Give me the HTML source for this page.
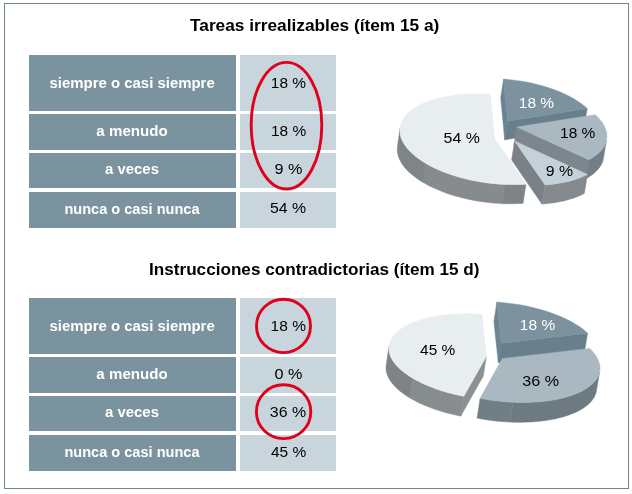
<!DOCTYPE html>
<html><head><meta charset="utf-8">
<style>
html,body{margin:0;padding:0;background:#fff;width:632px;height:494px;overflow:hidden}
body{position:relative;font-family:"Liberation Sans",sans-serif}
svg{position:absolute;left:0;top:0;will-change:transform}
text{font-family:"Liberation Sans",sans-serif}
.t{font-weight:bold;font-size:17px;fill:#000}
.w{font-weight:bold;font-size:15px;fill:#fff}
.p{font-size:14.5px;fill:#000}
.q{font-size:15px}
</style></head><body>
<svg width="632" height="494" viewBox="0 0 632 494">
<rect x="4.5" y="3.5" width="624" height="485" fill="none" stroke="#6f8793" stroke-width="1"/>
<text class="t" x="190.00" y="31.30" textLength="249.38" lengthAdjust="spacingAndGlyphs">Tareas irrealizables (ítem 15 a)</text>
<text class="t" x="148.99" y="274.50" textLength="330.53" lengthAdjust="spacingAndGlyphs">Instrucciones contradictorias (ítem 15 d)</text>
<g fill="#7b939f">
<rect x="29" y="55" width="207" height="56"/><rect x="29" y="114" width="207" height="36"/><rect x="29" y="153" width="207" height="35"/><rect x="29" y="192" width="207" height="36"/>
<rect x="29" y="298" width="207" height="56"/><rect x="29" y="357" width="207" height="36"/><rect x="29" y="396" width="207" height="35"/><rect x="29" y="435" width="207" height="36"/>
</g>
<g fill="#c8d5dc">
<rect x="240" y="55" width="96" height="56"/><rect x="240" y="114" width="96" height="36"/><rect x="240" y="153" width="96" height="35"/><rect x="240" y="192" width="96" height="36"/>
<rect x="240" y="298" width="96" height="56"/><rect x="240" y="357" width="96" height="36"/><rect x="240" y="396" width="96" height="35"/><rect x="240" y="435" width="96" height="36"/>
</g>
<text class="w" x="49.50" y="88.30" textLength="165.23" lengthAdjust="spacingAndGlyphs">siempre o casi siempre</text>
<text class="w" x="96.39" y="135.80" textLength="71.36" lengthAdjust="spacingAndGlyphs">a menudo</text>
<text class="w" x="105.11" y="174.10" textLength="53.83" lengthAdjust="spacingAndGlyphs">a veces</text>
<text class="w" x="64.43" y="213.50" textLength="135.08" lengthAdjust="spacingAndGlyphs">nunca o casi nunca</text>
<text class="w" x="49.50" y="330.80" textLength="165.23" lengthAdjust="spacingAndGlyphs">siempre o casi siempre</text>
<text class="w" x="96.39" y="379.00" textLength="71.36" lengthAdjust="spacingAndGlyphs">a menudo</text>
<text class="w" x="105.11" y="417.00" textLength="53.83" lengthAdjust="spacingAndGlyphs">a veces</text>
<text class="w" x="64.43" y="456.60" textLength="135.08" lengthAdjust="spacingAndGlyphs">nunca o casi nunca</text>
<text class="p" x="270.83" y="87.90" textLength="35.23" lengthAdjust="spacingAndGlyphs">18 %</text>
<text class="p" x="270.93" y="135.80" textLength="35.23" lengthAdjust="spacingAndGlyphs">18 %</text>
<text class="p" x="274.58" y="174.20" textLength="27.93" lengthAdjust="spacingAndGlyphs">9 %</text>
<text class="p" x="270.01" y="213.40" textLength="36.16" lengthAdjust="spacingAndGlyphs">54 %</text>
<text class="p" x="270.63" y="330.80" textLength="35.34" lengthAdjust="spacingAndGlyphs">18 %</text>
<text class="p" x="274.58" y="379.00" textLength="27.93" lengthAdjust="spacingAndGlyphs">0 %</text>
<text class="p" x="269.80" y="417.00" textLength="36.37" lengthAdjust="spacingAndGlyphs">36 %</text>
<text class="p" x="270.90" y="456.60" textLength="35.27" lengthAdjust="spacingAndGlyphs">45 %</text>
<g fill="none" stroke="#e0001b" stroke-width="2.9">
<path d="M251.2,125 A35.3,62.7 0 0 1 321.8,125 A35.3,64.1 0 0 1 251.2,125Z"/>
<ellipse cx="283.5" cy="325.9" rx="27" ry="26.7"/>
<ellipse cx="283.6" cy="411.7" rx="27.2" ry="26.9"/>
</g>
<path fill="#6b8491" stroke="#6b8491" stroke-width="0.5" stroke-linejoin="round" d="M507.7,121.0 L503.6,79.1 L500.7,97.8 L504.7,139.8Z"/>
<path fill="#67808c" stroke="#67808c" stroke-width="0.5" stroke-linejoin="round" d="M507.7,121.0 L587.2,108.5 L584.0,127.3 L504.7,139.8Z"/>
<path fill="#7c939f" stroke="#7c939f" stroke-width="0.5" stroke-linejoin="round" d="M507.7,121.0 L503.6,79.1 L507.6,79.5 L511.6,79.9 L515.6,80.4 L519.6,80.9 L523.5,81.6 L527.5,82.3 L531.4,83.1 L535.2,84.0 L539.0,85.0 L542.8,86.0 L546.4,87.1 L550.0,88.2 L553.6,89.5 L557.0,90.8 L560.3,92.1 L563.6,93.5 L566.7,95.0 L569.7,96.5 L572.6,98.1 L575.4,99.7 L578.0,101.4 L580.5,103.1 L582.9,104.9 L585.1,106.6 L587.2,108.5Z"/>
<path fill="#7c878d" stroke="#7c878d" stroke-width="0.5" stroke-linejoin="round" d="M516.8,127.1 L588.9,159.7 L585.7,178.8 L513.9,146.0Z"/>
<path fill="#737f86" stroke="#737f86" stroke-width="0.5" stroke-linejoin="round" d="M606.4,140.7 L605.9,142.5 L605.2,144.3 L604.3,146.0 L603.3,147.7 L602.1,149.4 L600.7,151.0 L599.1,152.6 L597.4,154.1 L595.5,155.6 L593.5,157.0 L591.3,158.4 L588.9,159.7 L585.7,178.8 L588.1,177.5 L590.2,176.1 L592.3,174.7 L594.2,173.2 L595.9,171.6 L597.4,170.1 L598.8,168.4 L600.0,166.7 L601.1,165.0 L602.0,163.3 L602.7,161.5 L603.2,159.7Z"/>
<path fill="#aab9c1" stroke="#aab9c1" stroke-width="0.5" stroke-linejoin="round" d="M516.8,127.1 L595.3,114.7 L597.2,116.5 L598.9,118.3 L600.5,120.2 L601.9,122.0 L603.1,123.9 L604.2,125.8 L605.1,127.7 L605.8,129.6 L606.3,131.4 L606.7,133.3 L606.9,135.2 L606.9,137.1 L606.7,138.9 L606.4,140.7 L605.9,142.5 L605.2,144.3 L604.3,146.0 L603.3,147.7 L602.1,149.4 L600.7,151.0 L599.1,152.6 L597.4,154.1 L595.5,155.6 L593.5,157.0 L591.3,158.4 L588.9,159.7Z"/>
<path fill="#7e8386" stroke="#7e8386" stroke-width="0.5" stroke-linejoin="round" d="M526.0,184.2 L521.9,184.4 L517.6,184.6 L513.3,184.6 L509.0,184.6 L504.6,184.4 L501.6,203.6 L505.9,203.7 L510.3,203.8 L514.6,203.7 L518.8,203.6 L523.0,203.4Z"/>
<path fill="#868b8e" stroke="#868b8e" stroke-width="0.5" stroke-linejoin="round" d="M504.6,184.4 L500.2,184.2 L495.9,183.8 L491.6,183.4 L487.2,182.9 L482.9,182.3 L478.6,181.6 L474.4,180.8 L470.1,179.9 L466.0,178.9 L461.9,177.9 L457.9,176.8 L453.9,175.6 L450.0,174.3 L446.3,172.9 L442.6,171.5 L439.1,170.0 L435.6,168.5 L432.3,166.9 L429.1,165.2 L426.1,163.5 L423.3,182.6 L426.4,184.3 L429.5,186.0 L432.8,187.6 L436.3,189.1 L439.8,190.6 L443.5,192.1 L447.2,193.4 L451.1,194.7 L455.0,195.9 L459.0,197.0 L463.1,198.1 L467.3,199.0 L471.5,199.9 L475.7,200.7 L480.0,201.4 L484.3,202.0 L488.6,202.6 L492.9,203.0 L497.3,203.3 L501.6,203.6Z"/>
<path fill="#7e8488" stroke="#7e8488" stroke-width="0.5" stroke-linejoin="round" d="M426.1,163.5 L423.2,161.7 L420.4,159.9 L417.8,158.1 L415.4,156.2 L413.1,154.3 L411.0,152.3 L409.1,150.4 L407.4,148.4 L405.8,146.4 L404.4,144.3 L403.2,142.3 L402.2,140.3 L401.3,138.2 L400.7,136.2 L400.2,134.2 L400.0,132.2 L399.9,130.2 L400.0,128.2 L397.4,147.1 L397.3,149.1 L397.3,151.1 L397.6,153.1 L398.0,155.1 L398.7,157.2 L399.5,159.2 L400.5,161.3 L401.7,163.3 L403.1,165.4 L404.7,167.4 L406.4,169.4 L408.3,171.4 L410.4,173.3 L412.7,175.2 L415.1,177.1 L417.7,179.0 L420.5,180.8 L423.3,182.6Z"/>
<path fill="#e8edf0" stroke="#e8edf0" stroke-width="0.5" stroke-linejoin="round" d="M494.5,138.4 L526.0,184.2 L522.0,184.4 L517.9,184.6 L513.7,184.6 L509.6,184.6 L505.3,184.4 L501.1,184.2 L496.9,183.9 L492.6,183.5 L488.4,183.0 L484.1,182.4 L479.9,181.8 L475.7,181.0 L471.6,180.2 L467.5,179.3 L463.5,178.3 L459.5,177.2 L455.6,176.1 L451.8,174.9 L448.1,173.6 L444.4,172.2 L440.9,170.8 L437.5,169.3 L434.1,167.8 L431.0,166.2 L427.9,164.5 L425.0,162.9 L422.2,161.1 L419.6,159.3 L417.1,157.5 L414.7,155.6 L412.6,153.8 L410.5,151.8 L408.7,149.9 L407.0,148.0 L405.5,146.0 L404.2,144.0 L403.0,142.0 L402.0,140.0 L401.2,138.0 L400.6,136.0 L400.2,134.0 L400.0,132.1 L399.9,130.1 L400.0,128.2 L400.3,126.3 L400.8,124.4 L401.4,122.5 L402.3,120.7 L403.3,118.9 L404.5,117.2 L405.8,115.5 L407.4,113.8 L409.0,112.2 L410.9,110.6 L412.9,109.1 L415.1,107.7 L417.4,106.3 L419.8,105.0 L422.4,103.7 L425.2,102.5 L428.0,101.4 L431.0,100.4 L434.1,99.4 L437.3,98.5 L440.6,97.7 L444.1,96.9 L447.6,96.3 L451.2,95.7 L454.9,95.2 L458.6,94.8 L462.4,94.4 L466.3,94.2 L470.3,94.0 L474.3,93.9 L478.3,93.9 L482.3,94.0 L486.4,94.2 L490.5,94.4Z"/>
<path fill="#7a8288" stroke="#7a8288" stroke-width="0.5" stroke-linejoin="round" d="M514.6,141.1 L545.1,184.9 L541.9,204.1 L511.6,160.1Z"/>
<path fill="#848a8e" stroke="#848a8e" stroke-width="0.5" stroke-linejoin="round" d="M587.5,174.4 L585.0,175.6 L582.3,176.8 L579.5,178.0 L576.5,179.0 L573.5,180.0 L570.3,180.9 L567.0,181.7 L563.5,182.4 L560.0,183.1 L556.4,183.7 L552.7,184.2 L548.9,184.6 L545.1,184.9 L541.9,204.1 L545.8,203.7 L549.6,203.3 L553.2,202.9 L556.9,202.3 L560.4,201.6 L563.8,200.9 L567.1,200.0 L570.3,199.1 L573.4,198.2 L576.3,197.1 L579.1,196.0 L581.8,194.8 L584.3,193.5Z"/>
<path fill="#c5d1d8" stroke="#c5d1d8" stroke-width="0.5" stroke-linejoin="round" d="M514.6,141.1 L587.5,174.4 L585.0,175.6 L582.3,176.8 L579.5,178.0 L576.5,179.0 L573.5,180.0 L570.3,180.9 L567.0,181.7 L563.5,182.4 L560.0,183.1 L556.4,183.7 L552.7,184.2 L548.9,184.6 L545.1,184.9Z"/>
<path fill="#6b8491" stroke="#6b8491" stroke-width="0.5" stroke-linejoin="round" d="M501.3,343.2 L496.9,302.1 L493.9,321.5 L498.3,362.7Z"/>
<path fill="#67808c" stroke="#67808c" stroke-width="0.5" stroke-linejoin="round" d="M501.3,343.2 L587.6,333.2 L584.3,352.7 L498.3,362.7Z"/>
<path fill="#7c939f" stroke="#7c939f" stroke-width="0.5" stroke-linejoin="round" d="M501.3,343.2 L496.9,302.1 L501.1,302.4 L505.4,302.9 L509.6,303.4 L513.9,303.9 L518.1,304.6 L522.3,305.3 L526.4,306.1 L530.5,307.0 L534.5,308.0 L538.5,309.0 L542.4,310.1 L546.2,311.3 L550.0,312.5 L553.6,313.8 L557.2,315.2 L560.6,316.6 L563.9,318.0 L567.1,319.6 L570.2,321.1 L573.1,322.7 L575.9,324.4 L578.6,326.1 L581.1,327.8 L583.4,329.6 L585.6,331.4 L587.6,333.2Z"/>
<path fill="#8b9093" stroke="#8b9093" stroke-width="0.5" stroke-linejoin="round" d="M486.3,356.4 L463.8,396.3 L460.8,416.1 L483.3,376.0Z"/>
<path fill="#878c8f" stroke="#878c8f" stroke-width="0.5" stroke-linejoin="round" d="M463.8,396.3 L459.6,395.4 L455.4,394.5 L451.3,393.5 L447.2,392.4 L443.3,391.2 L439.4,390.0 L435.6,388.7 L431.9,387.3 L428.4,385.9 L424.9,384.4 L421.6,382.9 L418.4,381.3 L415.3,379.7 L412.4,378.0 L409.6,397.8 L412.5,399.5 L415.5,401.1 L418.7,402.7 L422.0,404.2 L425.5,405.7 L429.0,407.1 L432.7,408.5 L436.5,409.8 L440.3,411.0 L444.3,412.2 L448.3,413.3 L452.4,414.3 L456.6,415.2 L460.8,416.1Z"/>
<path fill="#7d8387" stroke="#7d8387" stroke-width="0.5" stroke-linejoin="round" d="M412.4,378.0 L409.7,376.3 L407.1,374.6 L404.6,372.8 L402.3,371.0 L400.2,369.2 L398.3,367.3 L396.5,365.4 L394.9,363.6 L393.5,361.7 L392.2,359.8 L391.2,357.8 L390.3,355.9 L389.7,354.0 L389.2,352.1 L388.9,350.2 L388.8,348.4 L388.9,346.5 L386.1,366.1 L386.0,368.0 L386.1,369.8 L386.4,371.7 L386.9,373.7 L387.6,375.6 L388.4,377.5 L389.5,379.4 L390.7,381.3 L392.1,383.2 L393.7,385.1 L395.5,387.0 L397.4,388.9 L399.5,390.7 L401.8,392.5 L404.2,394.3 L406.8,396.1 L409.6,397.8Z"/>
<path fill="#e8edf0" stroke="#e8edf0" stroke-width="0.5" stroke-linejoin="round" d="M486.3,356.4 L463.8,396.3 L459.6,395.4 L455.4,394.5 L451.3,393.5 L447.3,392.4 L443.3,391.2 L439.4,390.0 L435.6,388.7 L432.0,387.3 L428.4,385.9 L424.9,384.4 L421.6,382.9 L418.4,381.3 L415.4,379.7 L412.5,378.1 L409.7,376.4 L407.1,374.6 L404.6,372.8 L402.3,371.0 L400.2,369.2 L398.3,367.3 L396.5,365.5 L394.9,363.6 L393.5,361.7 L392.3,359.8 L391.2,357.9 L390.3,355.9 L389.7,354.0 L389.2,352.1 L388.9,350.2 L388.8,348.4 L388.9,346.5 L389.1,344.7 L389.6,342.9 L390.3,341.1 L391.1,339.3 L392.1,337.6 L393.3,335.9 L394.7,334.3 L396.2,332.7 L397.9,331.2 L399.8,329.7 L401.9,328.3 L404.1,326.9 L406.5,325.5 L409.0,324.3 L411.7,323.1 L414.5,321.9 L417.4,320.9 L420.5,319.9 L423.7,319.0 L427.0,318.1 L430.4,317.3 L434.0,316.6 L437.6,316.0 L441.3,315.4 L445.1,315.0 L449.0,314.6 L453.0,314.3 L457.0,314.0 L461.1,313.9 L465.2,313.8 L469.4,313.8 L473.6,313.9 L477.8,314.1 L482.0,314.3Z"/>
<path fill="#6d7a82" stroke="#6d7a82" stroke-width="0.5" stroke-linejoin="round" d="M599.4,372.8 L598.8,374.6 L598.1,376.4 L597.1,378.1 L595.9,379.8 L594.6,381.5 L593.1,383.2 L591.4,384.8 L589.5,386.3 L587.4,387.8 L585.2,389.2 L582.8,390.6 L580.2,391.9 L577.5,393.1 L574.6,394.3 L571.6,395.4 L568.4,396.4 L565.1,397.4 L561.6,398.2 L558.1,399.0 L554.4,399.8 L550.6,400.4 L546.8,400.9 L542.8,401.4 L538.7,401.8 L534.6,402.1 L530.4,402.3 L526.2,402.4 L521.9,402.4 L517.5,402.4 L513.2,402.2 L510.0,422.1 L514.4,422.2 L518.7,422.3 L523.0,422.2 L527.3,422.1 L531.4,421.9 L535.6,421.6 L539.6,421.3 L543.6,420.8 L547.4,420.2 L551.2,419.6 L554.9,418.9 L558.4,418.1 L561.8,417.2 L565.1,416.2 L568.3,415.2 L571.3,414.1 L574.2,412.9 L576.9,411.7 L579.5,410.4 L581.9,409.0 L584.1,407.6 L586.2,406.1 L588.1,404.5 L589.8,402.9 L591.3,401.3 L592.6,399.6 L593.8,397.9 L594.7,396.1 L595.5,394.3 L596.1,392.5Z"/>
<path fill="#717e86" stroke="#717e86" stroke-width="0.5" stroke-linejoin="round" d="M513.2,402.2 L508.4,401.9 L503.7,401.6 L498.9,401.1 L494.2,400.6 L489.5,399.9 L484.8,399.1 L480.1,398.3 L477.1,418.1 L481.7,419.0 L486.4,419.7 L491.1,420.4 L495.8,421.0 L500.6,421.4 L505.3,421.8 L510.0,422.1Z"/>
<path fill="#aab9c1" stroke="#aab9c1" stroke-width="0.5" stroke-linejoin="round" d="M502.3,358.6 L589.7,348.4 L591.6,350.3 L593.2,352.1 L594.7,354.0 L596.0,355.9 L597.1,357.8 L598.0,359.7 L598.8,361.6 L599.4,363.5 L599.8,365.4 L599.9,367.2 L600.0,369.1 L599.8,370.9 L599.4,372.8 L598.8,374.6 L598.1,376.3 L597.1,378.1 L596.0,379.8 L594.7,381.4 L593.2,383.0 L591.5,384.6 L589.7,386.1 L587.6,387.6 L585.5,389.0 L583.1,390.4 L580.6,391.7 L577.9,392.9 L575.1,394.1 L572.1,395.2 L569.0,396.2 L565.8,397.2 L562.4,398.1 L558.9,398.9 L555.3,399.6 L551.6,400.2 L547.8,400.8 L543.9,401.3 L539.9,401.7 L535.8,402.0 L531.7,402.2 L527.5,402.4 L523.3,402.4 L519.0,402.4 L514.7,402.3 L510.4,402.1 L506.0,401.8 L501.7,401.4 L497.3,400.9 L493.0,400.4 L488.7,399.8 L484.4,399.1 L480.1,398.3Z"/>
<text class="q" x="518.87" y="107.80" textLength="35.24" lengthAdjust="spacingAndGlyphs" fill="#fff">18 %</text>
<text class="q" x="560.07" y="137.80" textLength="35.24" lengthAdjust="spacingAndGlyphs" fill="#000">18 %</text>
<text class="q" x="545.85" y="175.60" textLength="27.26" lengthAdjust="spacingAndGlyphs" fill="#000">9 %</text>
<text class="q" x="443.54" y="142.80" textLength="36.28" lengthAdjust="spacingAndGlyphs" fill="#000">54 %</text>
<text class="q" x="519.87" y="329.90" textLength="35.34" lengthAdjust="spacingAndGlyphs" fill="#fff">18 %</text>
<text class="q" x="420.10" y="355.20" textLength="35.11" lengthAdjust="spacingAndGlyphs" fill="#000">45 %</text>
<text class="q" x="522.22" y="385.70" textLength="36.79" lengthAdjust="spacingAndGlyphs" fill="#000">36 %</text>
</svg>
</body></html>
